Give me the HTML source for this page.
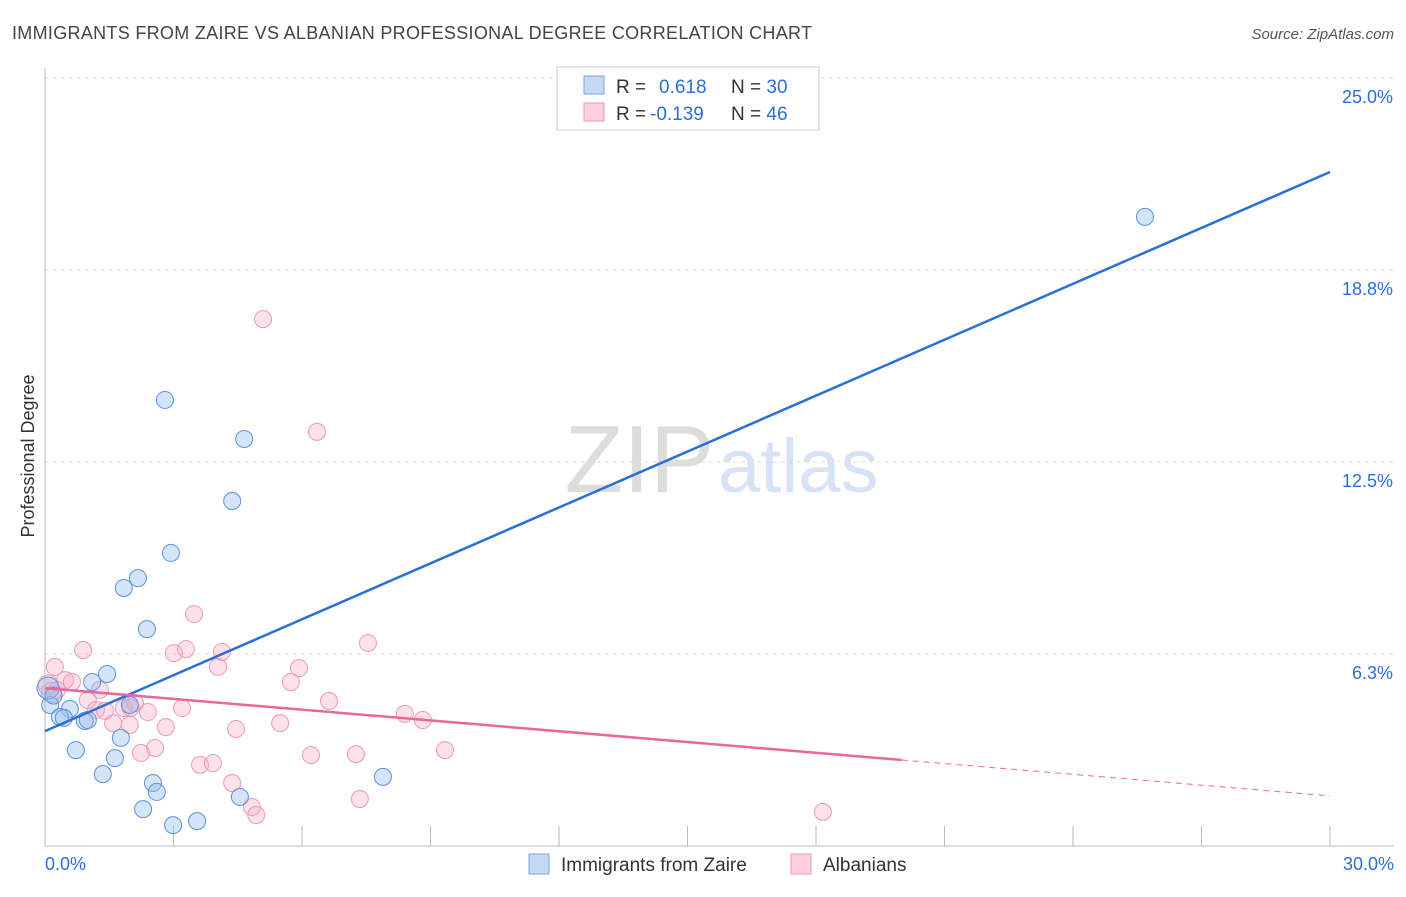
<!DOCTYPE html>
<html><head><meta charset="utf-8"><style>
body{margin:0;background:#fff;font-family:"Liberation Sans",sans-serif}
svg text{font-family:"Liberation Sans",sans-serif}
</style></head><body>
<svg id="c" width="1406" height="892">
<text x="12" y="39" font-size="18" fill="#444" textLength="800">IMMIGRANTS FROM ZAIRE VS ALBANIAN PROFESSIONAL DEGREE CORRELATION CHART</text>
<text x="1394" y="39" font-size="15" fill="#555" font-style="italic" text-anchor="end">Source: ZipAtlas.com</text>
<text x="714" y="492" font-size="96" fill="#ddd" text-anchor="end" font-family="Liberation Serif">ZIP</text>
<text x="718" y="492" font-size="76" fill="#d6e3f5">atlas</text>
<text transform="translate(34,456) rotate(-90)" font-size="18" fill="#333" text-anchor="middle">Professional Degree</text>
<g id="grid"></g><g id="pts"></g><g id="lines"></g>
<g>
<rect x="557" y="67" width="262" height="63" fill="#fff" stroke="#ccc"/>
<rect x="584" y="76" width="20" height="18" fill="#c5d9f5" stroke="#7aa5e0"/>
<rect x="584" y="103" width="20" height="18" fill="#fcd0dd" stroke="#ec9ab5"/>
<text x="616" y="93" font-size="19" fill="#333">R = <tspan fill="#2a6fd6" x="659">0.618</tspan><tspan x="731" fill="#333">N = </tspan><tspan fill="#2a6fd6">30</tspan></text>
<text x="616" y="120" font-size="19" fill="#333">R = <tspan fill="#2a6fd6" x="650">-0.139</tspan><tspan x="731" fill="#333">N = </tspan><tspan fill="#2a6fd6">46</tspan></text>
</g>
<g>
<rect x="529" y="854" width="20" height="20" fill="#c5d9f5" stroke="#7aa5e0"/>
<text x="561" y="871" font-size="19" fill="#333">Immigrants from Zaire</text>
<rect x="791" y="854" width="20" height="20" fill="#fcd0dd" stroke="#ec9ab5"/>
<text x="823" y="871" font-size="19" fill="#333">Albanians</text>
</g>
</svg>
<script>
const xTicks=[0,3,6,9,12,15,18,21,24,27,30];
const yTicks=[6.25,12.5,18.75,25];
const yTickLabels=["6.3%","12.5%","18.8%","25.0%"];
const blueX=[25.68,2.80,4.65,4.37,2.94,2.17,1.84,2.38,1.45,1.10,1.98,0.58,0.12,0.35,0.93,0.44,1.77,0.72,1.63,1.35,2.52,2.61,4.55,2.29,7.89,3.55,2.99,0.07,0.20,1.00];
const blueY=[20.48,14.52,13.25,11.23,9.54,8.72,8.40,7.06,5.60,5.34,4.59,4.46,4.59,4.20,4.07,4.17,3.52,3.12,2.86,2.34,2.05,1.76,1.60,1.20,2.25,0.81,0.68,5.14,4.90,4.10];
const pinkX=[5.09,6.35,3.48,7.54,0.89,3.01,3.29,4.13,4.04,5.93,0.23,5.74,0.47,0.63,1.28,0.28,6.63,1.00,2.10,1.84,1.19,3.20,2.40,5.49,4.46,1.59,1.98,2.82,8.40,8.82,2.57,2.24,9.34,6.21,7.26,3.62,3.92,4.37,4.83,4.93,7.35,18.16,0.07,0.15,1.40,2.00];
const pinkY=[17.15,13.48,7.55,6.61,6.38,6.28,6.41,6.32,5.83,5.79,5.83,5.34,5.40,5.34,5.08,5.08,4.72,4.75,4.65,4.49,4.43,4.49,4.36,4.00,3.81,4.00,3.94,3.87,4.30,4.10,3.19,3.03,3.12,2.96,2.99,2.64,2.70,2.05,1.27,1.01,1.53,1.11,5.24,5.00,4.40,4.50];
const blueTrend=[[0,3.74],[30,21.94]];
const pinkTrend=[[0,5.14],[20,2.80]];
const pinkTrendDash=[[20,2.80],[30,1.63]];
const X=v=>45+v/30*1285, Y=v=>846-v/25*768;
const ns="http://www.w3.org/2000/svg";
function mk(t,a,p){const e=document.createElementNS(ns,t);for(const k in a)e.setAttribute(k,a[k]);p.appendChild(e);return e;}
const g=document.getElementById('grid');
yTicks.forEach((v,i)=>{
 const l=mk('line',{x1:45,x2:1394,y1:Y(v),y2:Y(v),stroke:'#ddd','stroke-dasharray':'4,4'},g);
 
 
 const t=mk('text',{x:1393,y:Y(v)+25,'font-size':18,fill:'#2a6fd6','text-anchor':'end'},g);t.textContent=yTickLabels[i];
 
 
});
mk('line',{x1:45,x2:45,y1:68,y2:846,stroke:'#bbb'},g);
mk('line',{x1:45,x2:1394,y1:846,y2:846,stroke:'#bbb'},g);
xTicks.forEach(v=>{const l=mk('line',{x1:X(v),x2:X(v),y1:826,y2:846,stroke:'#bbb'},g);
 
 });
let t=mk('text',{x:45,y:870,'font-size':18,fill:'#2a6fd6'},g);t.textContent='0.0%';


t=mk('text',{x:1394,y:870,'font-size':18,fill:'#2a6fd6','text-anchor':'end'},g);t.textContent='30.0%';


const p=document.getElementById('pts');
pinkX.forEach((v,i)=>{const c=mk('circle',{cx:X(v),cy:Y(pinkY[i]),r:i>=42&&i<44?10:8.5,fill:'rgba(248,170,195,0.35)',stroke:'#ec9ab5','stroke-width':1},p);
 
 });
blueX.forEach((v,i)=>{const c=mk('circle',{cx:X(v),cy:Y(blueY[i]),r:i==27?11:8.5,fill:'rgba(150,190,240,0.4)',stroke:'#5b92dd','stroke-width':1},p);
 
 });
const L=document.getElementById('lines');
let l=mk('line',{x1:X(blueTrend[0][0]),y1:Y(blueTrend[0][1]),x2:X(blueTrend[1][0]),y2:Y(blueTrend[1][1]),stroke:'#2a6fd6','stroke-width':2.5},L);


l=mk('line',{x1:X(pinkTrend[0][0]),y1:Y(pinkTrend[0][1]),x2:X(pinkTrend[1][0]),y2:Y(pinkTrend[1][1]),stroke:'#e8689a','stroke-width':2.5},L);


l=mk('line',{x1:X(pinkTrendDash[0][0]),y1:Y(pinkTrendDash[0][1]),x2:X(pinkTrendDash[1][0]),y2:Y(pinkTrendDash[1][1]),stroke:'#e8689a','stroke-width':1,'stroke-dasharray':'6,5'},L);


</script>
</body></html>
